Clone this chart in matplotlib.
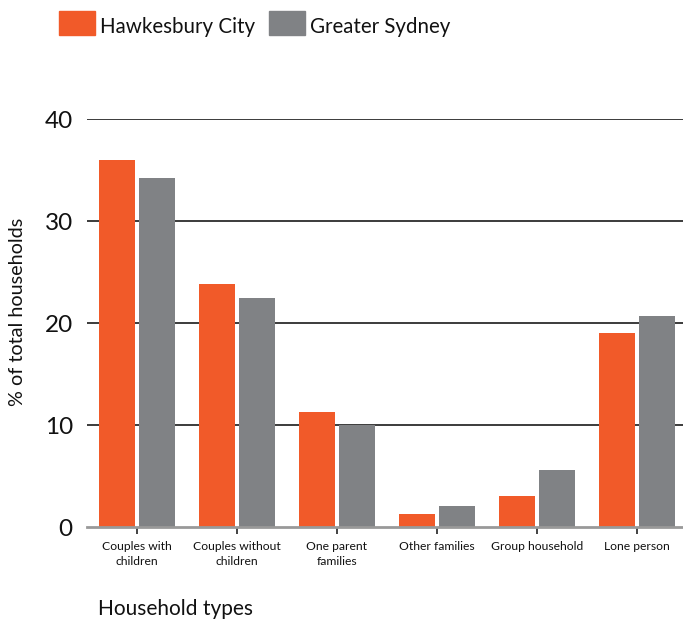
import matplotlib
matplotlib.use("Agg")
import matplotlib.pyplot as plt
from matplotlib.patches import Rectangle
import numpy as np

categories = ["Couples with\nchildren", "Couples without\nchildren", "One parent\nfamilies",
              "Other families", "Group household", "Lone person"]
hawkesbury = [36.0, 23.8, 11.3, 1.3, 3.0, 19.0]
sydney = [34.2, 22.5, 10.0, 2.1, 5.6, 20.7]
series_names = ["Hawkesbury City", "Greater Sydney"]
yticks = [0, 10, 20, 30, 40]

ORANGE = "#F15A29"
GREY = "#808285"
FONT = "Lato"
plt.rcParams['font.family'] = [FONT, 'DejaVu Sans']

W, H = 683, 619
fig = plt.figure(figsize=(W / 100, H / 100), dpi=100)
ax = fig.add_axes([86.7 / W, (H - 527) / H, 600 / W, (527 - 119.3) / H])

x = np.arange(len(categories))
bw = 0.36
ax.bar(x - 0.2, hawkesbury, width=bw, color=ORANGE, zorder=3)
ax.bar(x + 0.2, sydney, width=bw, color=GREY, zorder=3)

ax.set_xlim(-0.5, 5.5)
ax.set_ylim(0, 40)
for v in yticks[1:]:
    ax.axhline(v, color="#1a1a1a", lw=1.2, zorder=1)

for s in ["top", "right", "left"]:
    ax.spines[s].set_visible(False)
ax.spines["bottom"].set_color("#999999")
ax.spines["bottom"].set_linewidth(2)
ax.spines["bottom"].set_zorder(4)

ax.set_yticks(yticks)
ax.set_yticklabels([str(v) for v in yticks], fontsize=17.5, color="#111111")
ax.tick_params(axis="y", length=0, pad=10)
ax.set_xticks(x)
ax.set_xticklabels(categories, fontsize=8.7, color="#111111", linespacing=1.45)
ax.tick_params(axis="x", length=5, width=1.2, color="#222222", direction="out", pad=5)

fig.text(18 / W, 1 - 312 / H, "% of total households", fontsize=14.3, color="#111111",
         rotation=90, ha="center", va="center")

fig.text(98 / W, 1 - 615 / H, "Household types", fontsize=15, color="#111111",
         ha="left", va="baseline")

# legend
for px, name, col in [(59, series_names[0], ORANGE), (269, series_names[1], GREY)]:
    fig.add_artist(Rectangle((px / W, 1 - 35 / H), 36 / W, 24 / H, color=col,
                             transform=fig.transFigure))
    fig.text((px + 41) / W, 1 - 33 / H, name, fontsize=14.8, color="#111111",
             ha="left", va="baseline")

fig.savefig("out.png", dpi=100)
